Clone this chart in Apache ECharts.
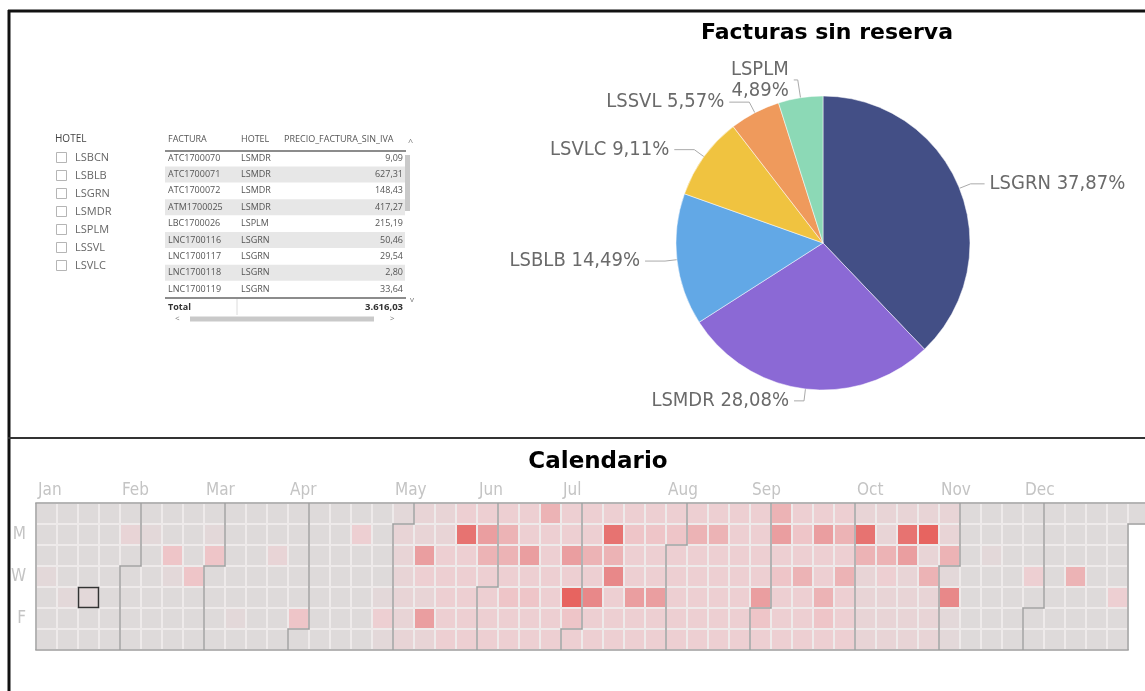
<!DOCTYPE html>
<html>
<head>
<meta charset="utf-8">
<script src="https://cdn.jsdelivr.net/npm/echarts@6/dist/echarts.min.js"></script>
<style>
html,body{margin:0;padding:0;background:#fff;}
#chart{width:1145px;height:691px;}
</style>
</head>
<body>
<div id="chart"></div>
<script>
// ---------- DATA ----------
const pieHotels = ['LSGRN', 'LSMDR', 'LSBLB', 'LSVLC', 'LSSVL', 'LSPLM'];
const piePercents = [37.87, 28.08, 14.49, 9.11, 5.57, 4.89];
const pieColors = ['#434f86', '#8b69d5', '#62a8e6', '#f0c340', '#ef9a5c', '#8cd9b6'];

const slicerTitle = 'HOTEL';
const slicerHotels = ['LSBCN', 'LSBLB', 'LSGRN', 'LSMDR', 'LSPLM', 'LSSVL', 'LSVLC'];

const tableHeaders = ['FACTURA', 'HOTEL', 'PRECIO_FACTURA_SIN_IVA'];
const tableFacturas = ['ATC1700070', 'ATC1700071', 'ATC1700072', 'ATM1700025', 'LBC1700026', 'LNC1700116', 'LNC1700117', 'LNC1700118', 'LNC1700119'];
const tableHoteles = ['LSMDR', 'LSMDR', 'LSMDR', 'LSMDR', 'LSPLM', 'LSGRN', 'LSGRN', 'LSGRN', 'LSGRN'];
const tablePrecios = ['9,09', '627,31', '148,43', '417,27', '215,19', '50,46', '29,54', '2,80', '33,64'];
const tableTotalLabel = 'Total';
const tableTotal = '3.616,03';

const calYear = 2017;
const monthNames = ['Jan', 'Feb', 'Mar', 'Apr', 'May', 'Jun', 'Jul', 'Aug', 'Sep', 'Oct', 'Nov', 'Dec'];
const dayNames = ['', 'M', '', 'W', '', 'F', ''];
const selectedDay = '2017-01-19';
// daily intensity (0 = none .. 9 = highest), one array per month
const jan = [0,0,0,1,0,0,0, 0,0,0,0,1,0,0, 0,0,0,0,1,0,0, 0,0,0,0,0,0,0, 0,2,0];
const feb = [0,0,0,0,0,1,0, 0,0,0,0,0,0,4, 1,0,0,0,0,0,0, 4,0,0,0,0,1,4];
const mar = [0,0,0,0,0,0,0, 0,0,1,0,0,0,0, 0,0,0,0,0,0,2, 0,0,0,0,0,0,0, 0,0,4];
const apr = [0,0,0,0,0,0,0, 0,0,0,0,0,0,0, 0,0,3,0,0,0,0, 0,0,0,0,0,1,3, 1,1];
const may = [2,2,2,2,2,2,2, 2,6,3,2,6,2,2, 2,3,3,3,3,3,3, 8,3,3,3,3,3,3, 6,5,3];
const jun = [3,3,3,3,5,5,3, 4,3,3,3,3,6,3, 4,3,3,5,3,3,3, 3,3,3,3,3,6,3, 9,4];
const jul = [3,3,3,5,3,7,3, 3,3,8,5,7,3,3, 3,3,4,3,3,6,3, 3,3,4,3,3,6,3, 3,3,4];
const aug = [3,3,3,3,3,3,5, 3,3,3,3,3,3,5, 3,3,3,3,3,3,3, 3,3,3,3,3,3,3, 3,3,6];
const sep = [4,3,5,6,3,4,3, 3,3,3,4,3,5,3, 3,3,3,6,3,3,5, 4,3,3,5,3,5,3, 3,3];
const oct = [2,8,5,2,2,2,2, 2,2,5,3,2,2,2, 2,8,6,2,2,2,2, 2,9,2,5,2,2,2, 2,2,5];
const nov = [1,7,1,1,0,0,0, 0,0,0,0,0,0,1, 0,0,0,0,0,0,0, 0,0,0,0,0,0,0, 3,0];
const dec = [0,0,0,0,0,0,0, 0,0,0,0,0,5,0, 0,0,0,0,0,0,0, 0,0,0,0,0,0,3, 0,0,0];
const monthValues = [jan, feb, mar, apr, may, jun, jul, aug, sep, oct, nov, dec];
const levelColors = ['#dedada', '#e3d8d9', '#e8d4d6', '#edcfd2', '#eec5c8', '#ecb3b5', '#ea9ea0', '#e88889', '#e77371', '#e76460'];

// ---------- BUILD ----------
const pad = n => (n < 10 ? '0' + n : '' + n);
const calData = [];
monthValues.forEach((arr, m) => {
  arr.forEach((v, i) => {
    calData.push([calYear + '-' + pad(m + 1) + '-' + pad(i + 1), v]);
  });
});
const selValue = calData.find(d => d[0] === selectedDay)[1];

const tableFont = '9px "Open Sans"';
const graphics = [];
// frame lines
graphics.push({type:'line', shape:{x1:8, y1:11, x2:1145, y2:11}, style:{stroke:'#111', lineWidth:3}});
graphics.push({type:'line', shape:{x1:9, y1:10, x2:9, y2:691}, style:{stroke:'#111', lineWidth:3}});
graphics.push({type:'line', shape:{x1:8, y1:438, x2:1145, y2:438}, style:{stroke:'#333', lineWidth:2}});
// slicer
graphics.push({type:'text', x:55, y:139, style:{text:slicerTitle, font:'10px "Open Sans"', fill:'#444', verticalAlign:'middle'}});
slicerHotels.forEach((h, i) => {
  const y = 158 + i * 18;
  graphics.push({type:'rect', shape:{x:56.5, y:y - 5.5, width:10, height:10}, style:{fill:'#fff', stroke:'#b5b5b5', lineWidth:1}});
  graphics.push({type:'text', x:75, y:y, style:{text:h, font:'11px "Open Sans"', fill:'#666', verticalAlign:'middle'}});
});
// table
const colX = [168, 241, 284];
tableHeaders.forEach((t, i) => {
  graphics.push({type:'text', x:colX[i], y:139, style:{text:t, font:tableFont, fill:'#555', verticalAlign:'middle'}});
});
graphics.push({type:'text', x:408, y:142, style:{text:'^', font:'9px "Open Sans"', fill:'#777', verticalAlign:'middle'}});
const rowStep = 16.4;
tableFacturas.forEach((f, i) => {
  const y = 158 + i * rowStep;
  if (i % 2 === 1) {
    graphics.push({type:'rect', shape:{x:165, y:y - 8, width:240, height:16}, style:{fill:'#e7e7e7'}});
  }
  graphics.push({type:'text', x:colX[0], y:y, style:{text:f, font:tableFont, fill:'#555', verticalAlign:'middle'}});
  graphics.push({type:'text', x:colX[1], y:y, style:{text:tableHoteles[i], font:tableFont, fill:'#555', verticalAlign:'middle'}});
  graphics.push({type:'text', x:403, y:y, style:{text:tablePrecios[i], font:tableFont, fill:'#555', align:'right', verticalAlign:'middle'}});
});
graphics.push({type:'line', shape:{x1:165, y1:151, x2:406, y2:151}, style:{stroke:'#666', lineWidth:1.5}});
graphics.push({type:'rect', shape:{x:405, y:155, width:5, height:56}, style:{fill:'#c9c9c9'}});
graphics.push({type:'line', shape:{x1:165, y1:298, x2:406, y2:298}, style:{stroke:'#666', lineWidth:1.5}});
graphics.push({type:'line', shape:{x1:237, y1:299, x2:237, y2:315}, style:{stroke:'#dcdcdc', lineWidth:1}});
graphics.push({type:'text', x:168, y:307, style:{text:tableTotalLabel, font:'bold 9px "Open Sans"', fill:'#333', verticalAlign:'middle'}});
graphics.push({type:'text', x:403, y:307, style:{text:tableTotal, font:'bold 9.5px "Open Sans"', fill:'#333', align:'right', verticalAlign:'middle'}});
graphics.push({type:'text', x:410, y:300, style:{text:'v', font:'8px "Open Sans"', fill:'#777', verticalAlign:'middle'}});
graphics.push({type:'text', x:175, y:319, style:{text:'<', font:'8px "Open Sans"', fill:'#777', verticalAlign:'middle'}});
graphics.push({type:'rect', shape:{x:190, y:316.5, width:184, height:5}, style:{fill:'#c9c9c9'}});
graphics.push({type:'text', x:390, y:319, style:{text:'>', font:'8px "Open Sans"', fill:'#777', verticalAlign:'middle'}});

const fmtPct = v => v.toFixed(2).replace('.', ',') + '%';
const wrapLabels = ['LSPLM'];
const labelLineLen = {LSGRN:[12, 14], LSMDR:[12, 10], LSBLB:[12, 20], LSVLC:[12, 20], LSSVL:[12, 20], LSPLM:[18, 4]};

const option = {
  animation: false,
  backgroundColor: '#ffffff',
  title: [
    {text:'Facturas sin reserva', left:822, top:17, textAlign:'center',
     textStyle:{fontFamily:'"DejaVu Sans"', fontWeight:'bold', fontSize:22, color:'#000'}},
    {text:'Calendario', left:593, top:446, textAlign:'center',
     textStyle:{fontFamily:'"DejaVu Sans"', fontWeight:'bold', fontSize:23, color:'#000'}}
  ],
  visualMap: {
    show:false, type:'continuous', min:0, max:9, seriesIndex:0,
    inRange:{color: levelColors}
  },
  calendar: {
    left:36, top:503, cellSize:[21, 21], orient:'horizontal', range: String(calYear),
    splitLine:{show:true, lineStyle:{color:'#a0a0a0', width:1.5}},
    itemStyle:{color:'#dedada', borderColor:'#eeeaea', borderWidth:1},
    dayLabel:{firstDay:0, nameMap:dayNames, color:'#c4c4c4', fontSize:17,
      fontFamily:'"DejaVu Sans Condensed"', margin:10},
    monthLabel:{show:false},
    yearLabel:{show:false}
  },
  series: [
    {type:'heatmap', coordinateSystem:'calendar', data:calData,
     itemStyle:{borderColor:'#eeeaea', borderWidth:1}, emphasis:{disabled:true}},
    {type:'heatmap', coordinateSystem:'calendar', z:5, data:[[selectedDay, selValue]],
     itemStyle:{color:'rgba(0,0,0,0)', borderColor:'#333', borderWidth:1.5}, emphasis:{disabled:true}},
    {type:'pie', center:[823, 243], radius:147, startAngle:90, clockwise:true,
     avoidLabelOverlap:false,
     itemStyle:{borderColor:'#ffffff', borderWidth:0.5},
     label:{show:true, position:'outside', color:'#6a6a6a', fontSize:20, lineHeight:21,
       fontFamily:'"DejaVu Sans Condensed"',
       formatter: p => p.name + (wrapLabels.indexOf(p.name) >= 0 ? '\n' : ' ') + fmtPct(p.value)},
     labelLine:{show:true, length:12, length2:10, lineStyle:{color:'#aaaaaa', width:1}},
     data: pieHotels.map((h, i) => ({name:h, value:piePercents[i], itemStyle:{color:pieColors[i]},
       labelLine:{length:labelLineLen[h][0], length2:labelLineLen[h][1]}}))
    }
  ],
  graphic: graphics
};
const chart = echarts.init(document.getElementById('chart'), null, {renderer:'canvas'});
chart.setOption(option);

// month labels placed at the column of each month's first day (via the calendar's own scale)
monthNames.forEach((name, m) => {
  const pt = chart.convertToPixel({calendarIndex:0}, calYear + '-' + pad(m + 1) + '-01');
  if (pt) {
    graphics.push({type:'text', x:pt[0] - 10.5 + 2, y:491,
      style:{text:name, font:'17px "DejaVu Sans Condensed"', fill:'#c4c4c4', verticalAlign:'middle'}});
  }
});
chart.setOption({graphic: graphics});
</script>
</body>
</html>
